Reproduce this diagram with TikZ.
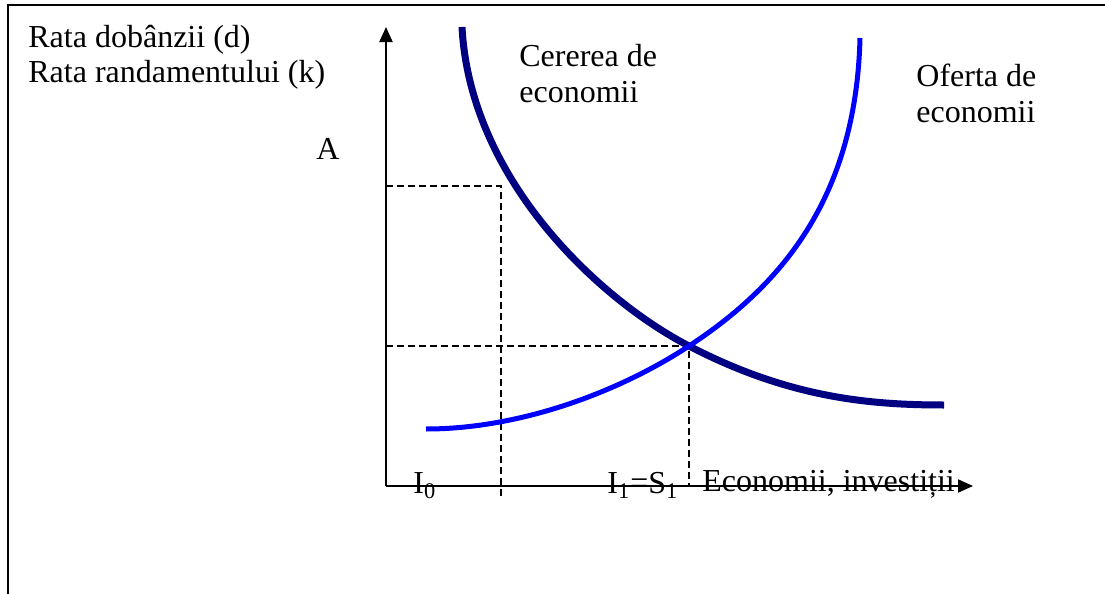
\documentclass[tikz,border=0pt]{standalone}
\usepackage{fontspec}
\setmainfont{Liberation Serif}
\usetikzlibrary{arrows.meta}
\definecolor{cerere}{HTML}{000080}
\definecolor{oferta}{HTML}{0000FF}

\begin{document}
\begin{tikzpicture}[x=0.5pt,y=-0.5pt,
  txt/.style={font=\fontsize{16}{18.4}\selectfont,inner sep=0pt,anchor=base west},
  axis/.style={line width=1pt,-{Triangle[length=7.5pt,width=6.5pt]}},
  guide/.style={line width=0.8pt,dash pattern=on 3.5pt off 2pt}]
  \useasboundingbox (0,0) rectangle (1105,594);
  % Frame (only top and left edges show)
  \draw[line width=1.3pt] (8,594) -- (8,5) -- (1105,5);

  % Axes
  \coordinate (O) at (386,486);
  \draw[axis] (O) -- (386,27);
  \draw[axis] (O) -- (973,486);

  % Guides
  \coordinate (E) at (689,346);
  \coordinate (P) at (501,186);
  \draw[guide] (O |- P) -- (P) -- (501,497);
  \draw[guide] (O |- E) -- (E) -- (E |- O);

  % Curves
  \draw[cerere,line width=3.5pt] (462,27) .. controls (470,180) and (600,300) .. (E)
    .. controls (789,398) and (870,405) .. (944,405);
  \draw[oferta,line width=2.5pt] (426,429) .. controls (520,429) and (619,392) .. (E)
    .. controls (779,287) and (856,200) .. (860,38);

  % Labels
  \node[txt] (ylab1) at (28,47) {Rata dobânzii (d)};
  \node[txt] (ylab2) at (28,83) {Rata randamentului (k)};
  \node[txt] (A) at (316,159) {A};
  \node[txt] (cer1) at (519,66) {Cererea de};
  \node[txt] (cer2) at (519,102) {economii};
  \node[txt] (of1) at (916,86) {Oferta de};
  \node[txt] (of2) at (916,122) {economii};
  \node[txt] (I0) at (413,493) {I\textsubscript{0}};
  \node[txt] (I1) at (607,493) {I\textsubscript{1}=S\textsubscript{1}};
  \node[txt] (xlab) at (702,491) {Economii, investiții};
\end{tikzpicture}
\end{document}
